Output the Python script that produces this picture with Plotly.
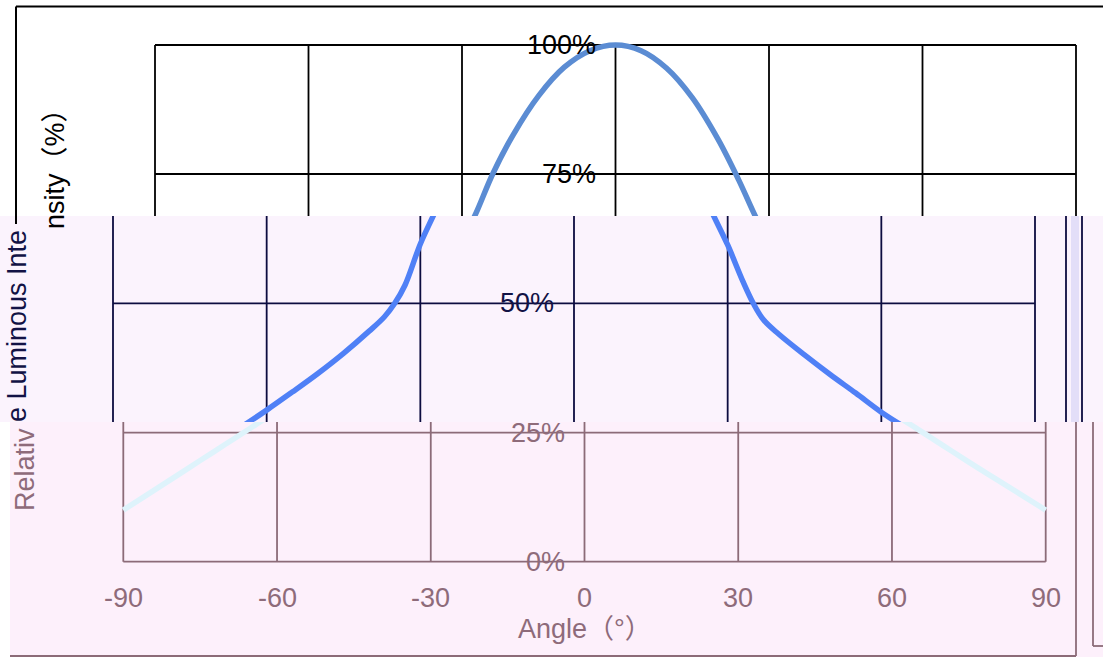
import plotly.graph_objects as go

# beam profile
angles = [-90, -85, -80, -75, -70, -65, -60, -55, -50, -45, -40, -37, -35, -33, -30, -27, -24,
          -20, -15, -10, -5, 0, 5, 10, 15, 20, 24, 27, 30, 33, 35, 37, 40, 45, 50, 55, 60, 65,
          70, 75, 80, 85, 90]
intensity = [10.0, 13.2, 16.4, 19.6, 22.8, 26.0, 29.3, 32.8, 36.4, 40.3, 44.6, 47.4, 50.0, 53.5,
             61.5, 68.0, 75.0, 82.6, 90.2, 95.7, 98.9, 100.0, 98.9, 95.5, 89.8, 81.8, 74.0, 67.5,
             61.3, 54.2, 50.0, 46.8, 44.0, 40.0, 36.2, 32.6, 28.9, 25.7, 22.5, 19.3, 16.2, 13.1,
             10.0]

x_ticks = [-90, -60, -30, 0, 30, 60, 90]
y_ticks = [0, 25, 50, 75, 100]
y_tick_labels = ["0%", "25%", "50%", "75%", "100%"]
x_title = "Angle（°）"
y_title_parts = ["nsity（%）", "e Luminous Inte", "Relativ"]  # the title, as cut by the three bands

W, H = 1103, 657
PX_PER_PCT = 5.16
FONT = "Arial, 'Liberation Sans', 'Noto Sans CJK SC', sans-serif"
FS = 27


def px(x, y):
    return x / W, 1 - y / H


# each band: pixel rows, pixel x of -90 / +90, pixel y of 0 %, colours, title fragment spot
bands = [
    dict(rows=(0, 216), left=155, right=1076, y0=561.0, bg="#ffffff", bg_x=0,
         grid="#000000", curve="#5b8cd3", text="#000000", title_xy=(55, 162)),
    dict(rows=(216, 422), left=113, right=1035, y0=561.3, bg="#fbf3fd", bg_x=0,
         grid="#0c0c40", curve="#4f80f6", text="#121245", title_xy=(17, 326)),
    dict(rows=(422, 657), left=123.3, right=1045.7, y0=561.7, bg="#fdf0fb", bg_x=10,
         grid="#8c6b78", curve="#def3fb", text="#8e6b7a", title_xy=(25, 470)),
]

fig = go.Figure()
shapes = []
annotations = []

for i, b in enumerate(bands):
    n = "" if i == 0 else str(i + 1)
    top, bottom = b["rows"]
    s = (b["right"] - b["left"]) / 180
    x_range = [-90 - b["left"] / s, 90 + (W - b["right"]) / s]
    y_range = [(b["y0"] - bottom) / PX_PER_PCT, (b["y0"] - top) / PX_PER_PCT]

    fig.update_layout({
        f"xaxis{n}": dict(domain=[0, 1], range=x_range, visible=False, anchor=f"y{n}"),
        f"yaxis{n}": dict(domain=[1 - bottom / H, 1 - top / H], range=y_range,
                          visible=False, anchor=f"x{n}"),
    })

    x0, y_top = px(b["bg_x"], top)
    _, y_bot = px(0, bottom)
    shapes.append(dict(type="rect", xref="paper", yref="paper", x0=x0, x1=1, y0=y_bot, y1=y_top,
                       fillcolor=b["bg"], line_width=0, layer="below"))

    gx, gy = [], []
    for xt in x_ticks:
        gx += [xt, xt, None]
        gy += [y_ticks[0], y_ticks[-1], None]
    for yt in y_ticks:
        gx += [x_ticks[0], x_ticks[-1], None]
        gy += [yt, yt, None]
    fig.add_trace(go.Scatter(x=gx, y=gy, mode="lines", xaxis=f"x{n}", yaxis=f"y{n}",
                             line=dict(color=b["grid"], width=1.8), hoverinfo="skip",
                             showlegend=False))

    fig.add_trace(go.Scatter(x=angles, y=intensity, mode="lines", xaxis=f"x{n}", yaxis=f"y{n}",
                             line=dict(color=b["curve"], width=5.5, shape="spline", smoothing=1.0),
                             showlegend=False))

    for yt, lab in zip(y_ticks, y_tick_labels):
        if y_range[0] < yt < y_range[1]:
            annotations.append(dict(x=0, y=yt, xref=f"x{n}", yref=f"y{n}", text=lab,
                                    showarrow=False, xanchor="right", yanchor="middle",
                                    xshift=-18, font=dict(size=FS, color=b["text"])))

    tx, ty = px(*b["title_xy"])
    annotations.append(dict(x=tx, y=ty, xref="paper", yref="paper", text=y_title_parts[i],
                            textangle=-90, showarrow=False, xanchor="center", yanchor="middle",
                            font=dict(size=FS, color=b["text"])))

# x tick labels and axis title live in the lowest band
low = bands[2]
for xt in x_ticks:
    annotations.append(dict(x=xt, y=0, xref="x3", yref="y3", text=str(xt), showarrow=False,
                            xanchor="center", yanchor="middle", yshift=-36,
                            font=dict(size=FS, color=low["text"])))
annotations.append(dict(x=0, y=0, xref="x3", yref="y3", text=x_title, showarrow=False,
                        xanchor="center", yanchor="middle", yshift=-67,
                        font=dict(size=FS, color=low["text"])))


def seg(xa, ya, xb, yb, color, width=1.8):
    (a, c), (d, e) = px(xa, ya), px(xb, yb)
    shapes.append(dict(type="line", xref="paper", yref="paper", x0=a, y0=c, x1=d, y1=e,
                       line=dict(color=color, width=width)))


# chart frame pieces showing in each band
seg(16, 6.5, W, 6.5, "#000000", 2)
seg(16, 6.5, 16, 224, "#000000", 2)
(a, c), (d, e) = px(1071, 216), px(1079, 422)
shapes.append(dict(type="rect", xref="paper", yref="paper", x0=a, x1=d, y0=e, y1=c,
                   fillcolor="#e3def8", line_width=0, layer="below"))
seg(1066, 216, 1066, 422, bands[1]["grid"])
seg(1082, 216, 1082, 422, bands[1]["grid"])
seg(1076, 422, 1076, 656, low["grid"])
seg(10, 656, 1076, 656, low["grid"])
seg(1093, 422, 1093, 646, low["grid"])
seg(1093, 646, W, 646, low["grid"])

fig.update_layout(
    width=W, height=H,
    margin=dict(l=0, r=0, t=0, b=0, pad=0),
    paper_bgcolor="#ffffff", plot_bgcolor="rgba(0,0,0,0)",
    font=dict(family=FONT),
    shapes=shapes, annotations=annotations,
    showlegend=False,
)

fig.write_html("out.html", config={"displayModeBar": False},
               post_script="document.body.style.margin='0';")
